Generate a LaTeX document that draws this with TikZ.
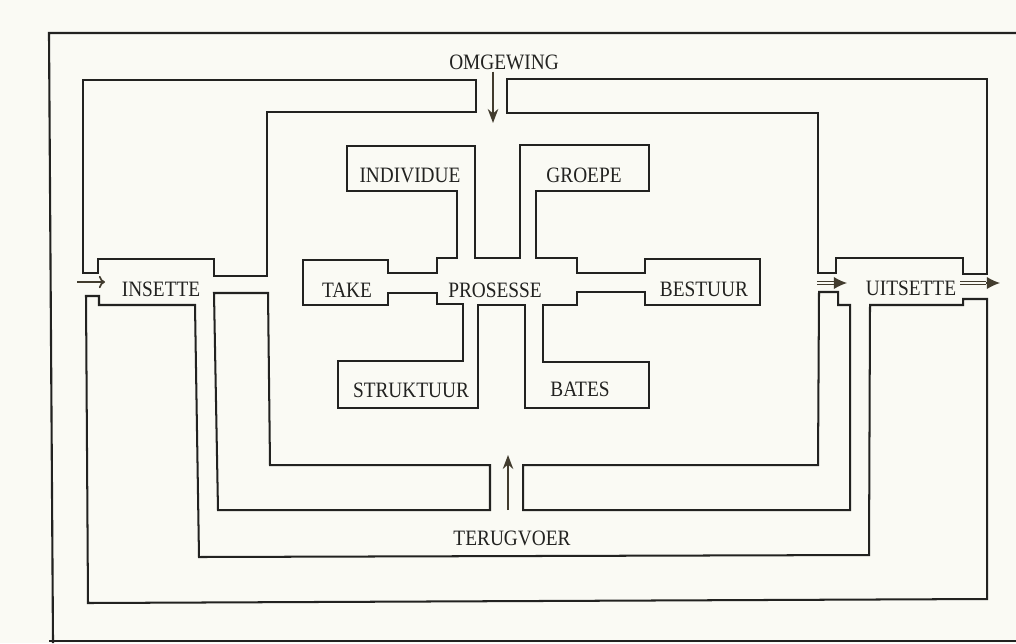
\documentclass[tikz,border=0pt]{standalone}
\usepackage{fontspec}
\setmainfont{Liberation Serif}
\usepackage{graphicx}
\usepackage{xcolor}
\usepackage{tikz}
\usetikzlibrary{arrows.meta}
\definecolor{figline}{RGB}{34,34,32}
\definecolor{figpaper}{RGB}{250,250,244}
\definecolor{figmark}{RGB}{66,60,46}
\newcommand{\tightlab}[1]{\scalebox{0.88}[1]{#1}}
\tikzset{
  wall/.style  ={draw=figline, line width=1.15pt, line join=miter},
  frame/.style ={draw=figline, line width=1.2pt},
  lab/.style   ={font=\fontsize{12.5}{14}\selectfont, text=figline, inner sep=1pt},
  ptr/.style   ={draw=figmark, line width=1pt, -{Stealth[length=8pt,width=6pt]}},
  ptro/.style  ={draw=figmark, line width=1pt, -{To[length=3.5pt,width=7pt]}},
  dshaft/.style={draw=figmark, line width=0.7pt, double=figpaper, double distance=1.3pt},
  dtip/.style  ={draw=figmark, line width=0.7pt, -{Latex[length=7.5pt,width=7pt]}},
}

\begin{document}
\begin{tikzpicture}[x=0.02cm, y=-0.02cm]
  \fill[figpaper] (0,0) rectangle (1016,643);
  \useasboundingbox (0,0) rectangle (1016,643);
  \draw[frame] (1016,33) -- (49,33) -- (53,643);
  \draw[frame] (49,641) -- (1016,641);
  % outer walls
  \draw[wall] (83,273) -- (83,80) -- (476,80) -- (476,112) -- (267,112) -- (267,276)
    -- (214,276) -- (214,259) -- (98,259) -- (98,273) -- cycle;
  \draw[wall] (507,79) -- (987,79) -- (987,274) -- (963,274) -- (963,258) -- (836,258)
    -- (836,273) -- (818,273) -- (818,113) -- (507,113) -- cycle;
  \draw[wall] (86,296) -- (99,296) -- (99,305) -- (195,305) -- (199,557) -- (869,555)
    -- (870,305) -- (963,305) -- (963,299) -- (987,299) -- (987,599) -- (88,603) -- cycle;
  \draw[wall] (214,293) -- (268,293) -- (270,465) -- (490,465) -- (490,510) -- (218,510) -- cycle;
  \draw[wall] (523,465) -- (818,465) -- (819,292) -- (838,292) -- (838,305) -- (850,305)
    -- (850,510) -- (523,510) -- cycle;
  % inner walls
  \draw[wall] (347,146) -- (475,146) -- (475,258) -- (520,258) -- (520,145) -- (649,145)
    -- (649,191) -- (536,191) -- (536,258) -- (577,258) -- (577,273) -- (645,273)
    -- (645,259) -- (760,259) -- (760,305) -- (645,305) -- (645,292) -- (577,292)
    -- (577,305) -- (543,305) -- (543,362) -- (649,362) -- (649,408) -- (525,408)
    -- (525,305) -- (478,305) -- (478,408) -- (338,408) -- (338,361) -- (463,361)
    -- (463,304) -- (437,304) -- (437,293) -- (388,293) -- (388,305) -- (303,305)
    -- (303,260) -- (388,260) -- (388,273) -- (437,273) -- (437,258) -- (457,258)
    -- (457,191) -- (347,191) -- cycle;

  \node[lab] (omgewing)  at (504,62)  {\tightlab{OMGEWING}};
  \node[lab] (terugvoer) at (512,538) {\tightlab{TERUGVOER}};
  \node[lab] (insette)   at (161,289) {\tightlab{INSETTE}};
  \node[lab] (uitsette)  at (911,288) {\tightlab{UITSETTE}};
  \node[lab] (individue) at (410,175) {\tightlab{INDIVIDUE}};
  \node[lab] (groepe)    at (584,175) {\tightlab{GROEPE}};
  \node[lab] (take)      at (347,290) {\tightlab{TAKE}};
  \node[lab] (prosesse)  at (495,290) {\tightlab{PROSESSE}};
  \node[lab] (bestuur)   at (704,289) {\tightlab{BESTUUR}};
  \node[lab] (struktuur) at (411,390) {\tightlab{STRUKTUUR}};
  \node[lab] (bates)     at (580,389) {\tightlab{BATES}};

  \coordinate (omgtip) at (493,123);
  \coordinate (fbtail) at (508,510);
  \coordinate (fbtip)  at (508,455);
  \coordinate (intail) at (77,282);
  \coordinate (intip)  at (105,282);
  \coordinate (uittail) at (817,283);
  \coordinate (uitbase) at (834,283);
  \coordinate (uittip)  at (847,283);
  \coordinate (outtail) at (960,283);
  \coordinate (outbase) at (986,283);
  \coordinate (outtip)  at (1000,283);
  \draw[ptr] (omgtip |- omgewing.south) -- (omgtip);
  \draw[ptr] (fbtail) -- (fbtip);
  \draw[ptro] (intail) -- (intip);
  \draw[dshaft] (uittail) -- (uitbase);
  \draw[dtip] (uitbase) -- (uittip);
  \draw[dshaft] (outtail) -- (outbase);
  \draw[dtip] (outbase) -- (outtip);
\end{tikzpicture}
\end{document}
